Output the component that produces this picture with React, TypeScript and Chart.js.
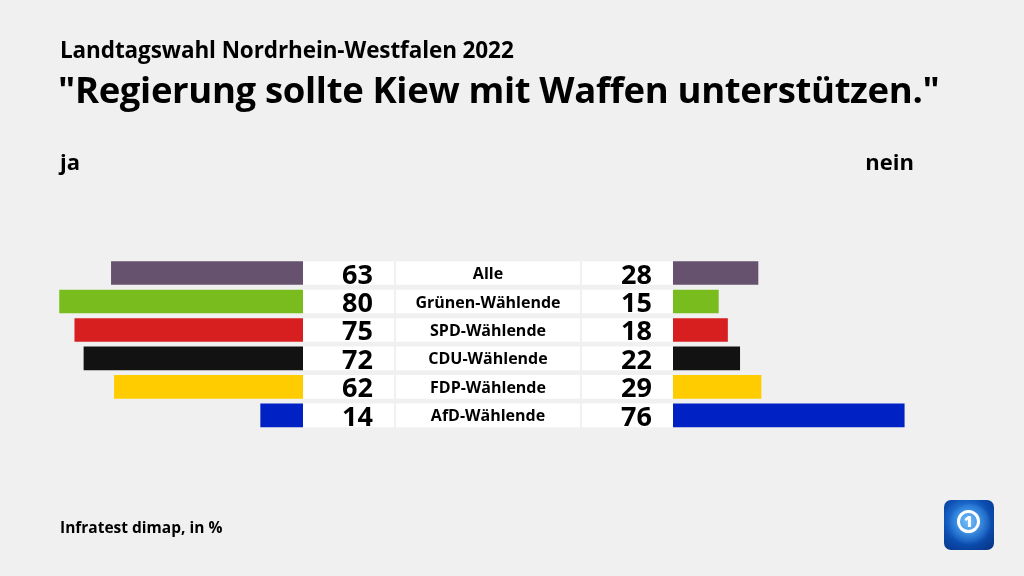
import React, { useEffect, useRef } from "react";
import { Chart, registerables } from "chart.js";

Chart.register(...registerables);

// ---- data ----
const categories = [
  "Alle",
  "Grünen-Wählende",
  "SPD-Wählende",
  "CDU-Wählende",
  "FDP-Wählende",
  "AfD-Wählende",
];
const jaValues = [63, 80, 75, 72, 62, 14];
const neinValues = [28, 15, 18, 22, 29, 76];
const barColors = ["#66526f", "#78bc1e", "#d71f1f", "#121212", "#ffcc00", "#0021c4"];

// ---- layout constants (not data) ----
const PX_PER_UNIT = 3.047;
const CENTER_PX = 488;
const GAP = 185 / PX_PER_UNIT; // bars start this far from centre
const BOX_L_INNER = 94 / PX_PER_UNIT;
const BOX_C = 92 / PX_PER_UNIT;
const NUM_L = 115 / PX_PER_UNIT;
const NUM_R = 164 / PX_PER_UNIT;
const FONT = "'Open Sans', sans-serif";

const textPlugin = {
  id: "rowText",
  afterDatasetsDraw(chart: any) {
    const { ctx } = chart;
    const x = chart.scales.x;
    const y = chart.scales.y;
    ctx.save();
    ctx.fillStyle = "#000";
    ctx.textBaseline = "alphabetic";
    categories.forEach((c, i) => {
      const yc = y.getPixelForValue(i);
      ctx.font = `bold 27px ${FONT}`;
      ctx.textAlign = "right";
      ctx.fillText(String(jaValues[i]), x.getPixelForValue(-NUM_L), yc + 10.5);
      ctx.fillText(String(neinValues[i]), x.getPixelForValue(NUM_R), yc + 10.5);
      ctx.font = `bold 16px ${FONT}`;
      ctx.textAlign = "center";
      ctx.fillText(c, x.getPixelForValue(0), yc + 6);
    });
    ctx.restore();
  },
};

export default function App() {
  const ref = useRef<HTMLCanvasElement>(null);

  useEffect(() => {
    if (!ref.current) return;
    const white = categories.map(() => "#ffffff");
    const chart = new Chart(ref.current, {
      type: "bar",
      data: {
        labels: categories,
        datasets: [
          {
            label: "box-left",
            data: categories.map(() => [-GAP, -BOX_L_INNER]) as any,
            backgroundColor: white,
            grouped: false,
            order: 5,
          } as any,
          {
            label: "box-centre",
            data: categories.map(() => [-BOX_C, BOX_C]) as any,
            backgroundColor: white,
            grouped: false,
            order: 5,
          } as any,
          {
            label: "box-right",
            data: categories.map(() => [BOX_L_INNER, GAP]) as any,
            backgroundColor: white,
            grouped: false,
            order: 5,
          } as any,
          {
            label: "ja",
            data: jaValues.map((v) => [-GAP - v, -GAP]) as any,
            backgroundColor: barColors,
            grouped: false,
            order: 1,
          } as any,
          {
            label: "nein",
            data: neinValues.map((v) => [GAP, GAP + v]) as any,
            backgroundColor: barColors,
            grouped: false,
            order: 1,
          } as any,
        ],
      },
      options: {
        indexAxis: "y",
        responsive: false,
        animation: false,
        devicePixelRatio: 1,
        layout: { padding: { left: 0, right: 0, top: 258.8, bottom: 576 - 429.6 } },
        datasets: { bar: { categoryPercentage: 1, barPercentage: 0.83 } } as any,
        plugins: {
          legend: { display: false },
          tooltip: { enabled: false },
          title: { display: false },
        },
        scales: {
          x: {
            display: false,
            min: -CENTER_PX / PX_PER_UNIT,
            max: (1024 - CENTER_PX) / PX_PER_UNIT,
          },
          y: { display: false, offset: true },
        },
      },
      plugins: [textPlugin],
    });
    return () => chart.destroy();
  }, []);

  const txt: React.CSSProperties = {
    position: "absolute",
    fontFamily: FONT,
    fontWeight: 700,
    color: "#000",
    whiteSpace: "nowrap",
    lineHeight: 1,
  };

  return (
    <div
      style={{
        position: "absolute",
        left: 0,
        top: 0,
        width: 1024,
        height: 576,
        background: "#f0f0f0",
        overflow: "hidden",
      }}
    >
      <canvas ref={ref} width={1024} height={576} style={{ position: "absolute", left: 0, top: 0 }} />
      <div style={{ ...txt, left: 60, top: 39, fontSize: 22.5, letterSpacing: -0.1 }}>
        Landtagswahl Nordrhein-Westfalen 2022
      </div>
      <div style={{ ...txt, left: 58, top: 71, fontSize: 36.5, letterSpacing: -0.35 }}>
        "Regierung sollte Kiew mit Waffen unterstützen."
      </div>
      <div style={{ ...txt, left: 60, top: 150, fontSize: 22 }}>ja</div>
      <div style={{ ...txt, right: 1024 - 914, top: 150, fontSize: 22 }}>nein</div>
      <div style={{ ...txt, left: 60, top: 520, fontSize: 15.5 }}>Infratest dimap, in %</div>
      <div
        style={{
          position: "absolute",
          left: 944,
          top: 500,
          width: 50,
          height: 50,
          borderRadius: 7,
          overflow: "hidden",
          background:
            "radial-gradient(circle at 45% 40%, #5ab0f4 0%, #2479d8 30%, #0b4cae 60%, #06307f 100%)",
        }}
      >
        <div
          style={{
            position: "absolute",
            left: 5,
            top: 4,
            width: 42,
            height: 42,
            borderRadius: "50%",
            background:
              "radial-gradient(circle at 50% 45%, rgba(150,210,255,0.55) 0%, rgba(80,160,235,0.35) 45%, rgba(20,80,180,0) 72%)",
          }}
        />
        <div
          style={{
            position: "absolute",
            left: 13,
            top: 10,
            width: 17,
            height: 17,
            borderRadius: "50%",
            border: "3px solid #fff",
            color: "#fff",
            fontFamily: FONT,
            fontWeight: 800,
            fontSize: 15,
            lineHeight: "17px",
            textAlign: "center",
          }}
        >
          1
        </div>
      </div>
    </div>
  );
}
